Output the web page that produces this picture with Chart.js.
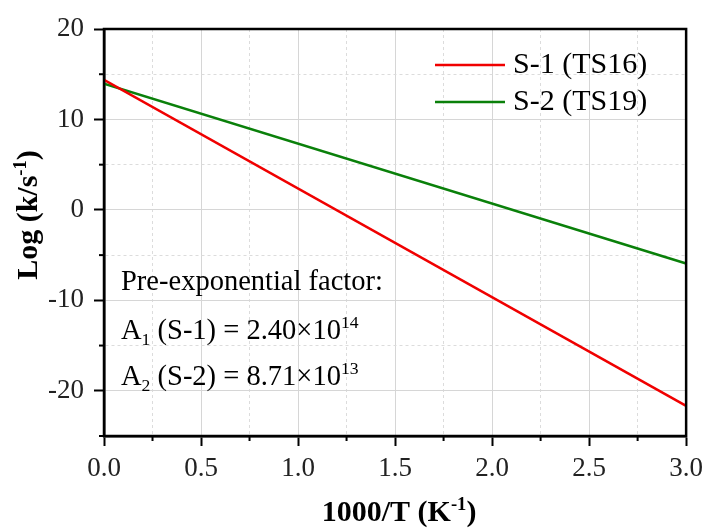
<!DOCTYPE html>
<html>
<head>
<meta charset="utf-8">
<script src="https://cdn.jsdelivr.net/npm/chart.js@4.4.1/dist/chart.umd.min.js"></script>
<style>
  html, body { margin: 0; padding: 0; background: #fff; }
  #wrap { width: 710px; height: 528px; }
</style>
</head>
<body>
<div id="wrap"><canvas id="c"></canvas></div>
<script>
// Arrhenius lines, log(k) against 1000/T
const invT = [0, 3.0];
const logK1 = [14.38, -21.67];
const logK2 = [13.94, -5.92];
const seriesNames = ['S-1 (TS16)', 'S-2 (TS19)'];
const seriesColors = ['#f00000', '#0a800a'];

const xRange = [0, 3.0];
const yRange = [-25, 20];

const SERIF = "'Liberation Serif', 'Times New Roman', serif";

// text pieces: [text, 'sup' | 'sub' | undefined]
function runWidth(ctx, parts, size, bold) {
  let w = 0;
  parts.forEach(p => {
    const s = p[1] ? size * 0.62 : size;
    ctx.font = (bold ? 'bold ' : '') + s + 'px ' + SERIF;
    w += ctx.measureText(p[0]).width;
  });
  return w;
}
function drawRun(ctx, parts, x, y, size, bold) {
  ctx.textBaseline = 'alphabetic';
  ctx.textAlign = 'left';
  parts.forEach(p => {
    const s = p[1] ? size * 0.62 : size;
    ctx.font = (bold ? 'bold ' : '') + s + 'px ' + SERIF;
    let dy = 0;
    if (p[1] === 'sup') dy = -size * 0.38;
    if (p[1] === 'sub') dy = size * 0.2;
    ctx.fillText(p[0], x, y + dy);
    x += ctx.measureText(p[0]).width;
  });
}

const decorations = {
  id: 'decorations',
  afterDraw(chart) {
    const ctx = chart.ctx;
    const a = chart.chartArea;
    const xs = chart.scales.x, ys = chart.scales.y;
    ctx.save();

    // minor tick marks, shorter than the major ones
    ctx.strokeStyle = '#000';
    ctx.lineWidth = 2;
    xs.ticks.forEach(t => {
      if (!isMajorX(t.value)) {
        const px = xs.getPixelForValue(t.value);
        ctx.beginPath(); ctx.moveTo(px, a.bottom); ctx.lineTo(px, a.bottom + 5); ctx.stroke();
      }
    });
    ys.ticks.forEach(t => {
      if (!isMajorY(t.value)) {
        const py = ys.getPixelForValue(t.value);
        ctx.beginPath(); ctx.moveTo(a.left, py); ctx.lineTo(a.left - 5, py); ctx.stroke();
      }
    });

    // frame
    ctx.lineWidth = 2.5;
    ctx.strokeRect(a.left, a.top, a.right - a.left, a.bottom - a.top);

    ctx.fillStyle = '#000';
    // x title
    const xt = [['1000/T (K'], ['-1', 'sup'], [')']];
    const xw = runWidth(ctx, xt, 30, true);
    drawRun(ctx, xt, (a.left + a.right) / 2 - xw / 2 + 4, 521, 30, true);

    // y title
    const yt = [['Log (k/s'], ['-1', 'sup'], [')']];
    const yw = runWidth(ctx, yt, 30, true);
    ctx.save();
    ctx.translate(37, 215);
    ctx.rotate(-Math.PI / 2);
    drawRun(ctx, yt, -yw / 2, 0, 30, true);
    ctx.restore();

    // legend
    chart.data.datasets.forEach((ds, i) => {
      const ly = 65 + i * 37;
      ctx.strokeStyle = ds.borderColor;
      ctx.lineWidth = 2.5;
      ctx.beginPath(); ctx.moveTo(435, ly); ctx.lineTo(505, ly); ctx.stroke();
      ctx.fillStyle = '#000';
      ctx.font = '30px ' + SERIF;
      ctx.textBaseline = 'middle';
      ctx.textAlign = 'left';
      ctx.fillText(ds.label, 513, ly);
    });

    // pre-exponential factors
    ctx.fillStyle = '#000';
    drawRun(ctx, [['Pre-exponential factor:']], 121, 290, 28.5, false);
    drawRun(ctx, [['A'], ['1', 'sub'], [' (S-1) = 2.40\u00d710'], ['14', 'sup']], 121, 339, 28.5, false);
    drawRun(ctx, [['A'], ['2', 'sub'], [' (S-2) = 8.71\u00d710'], ['13', 'sup']], 121, 385, 28.5, false);

    ctx.restore();
  }
};

const isMajorX = v => Math.abs(v * 2 - Math.round(v * 2)) < 1e-6;
const isMajorY = v => v % 10 === 0;

new Chart(document.getElementById('c'), {
  type: 'line',
  data: {
    datasets: [
      {
        label: seriesNames[0],
        data: invT.map((x, i) => ({ x, y: logK1[i] })),
        borderColor: seriesColors[0],
        borderWidth: 2.5,
        pointRadius: 0
      },
      {
        label: seriesNames[1],
        data: invT.map((x, i) => ({ x, y: logK2[i] })),
        borderColor: seriesColors[1],
        borderWidth: 2.5,
        pointRadius: 0
      }
    ]
  },
  options: {
    responsive: true,
    maintainAspectRatio: false,
    animation: false,
    layout: { padding: { left: 0, top: 29, right: 23, bottom: 0 } },
    plugins: { legend: { display: false }, tooltip: { enabled: false } },
    scales: {
      x: {
        type: 'linear',
        min: xRange[0],
        max: xRange[1],
        afterFit: s => { s.height = 92; },
        ticks: {
          stepSize: 0.25,
          autoSkip: false,
          maxRotation: 0,
          color: '#222',
          padding: 7,
          font: { family: SERIF, size: 27 },
          callback: v => isMajorX(v) ? v.toFixed(1) : ''
        },
        grid: {
          color: ctx => isMajorX(ctx.tick.value) ? '#d6d6d6' : '#dcdcdc',
          lineWidth: 1,
          tickLength: 10,
          tickWidth: 2,
          tickColor: ctx => isMajorX(ctx.tick.value) ? '#000' : 'rgba(0,0,0,0)'
        },
        border: {
          color: '#000',
          width: 2.5,
          dash: ctx => isMajorX(ctx.tick.value) ? [] : [3, 3]
        }
      },
      y: {
        type: 'linear',
        min: yRange[0],
        max: yRange[1],
        afterFit: s => { s.width = 104; },
        ticks: {
          stepSize: 5,
          autoSkip: false,
          color: '#222',
          padding: 10,
          font: { family: SERIF, size: 27 },
          callback: v => isMajorY(v) ? String(v) : ''
        },
        grid: {
          color: ctx => isMajorY(ctx.tick.value) ? '#d6d6d6' : '#dcdcdc',
          lineWidth: 1,
          tickLength: 10,
          tickWidth: 2,
          tickColor: ctx => isMajorY(ctx.tick.value) ? '#000' : 'rgba(0,0,0,0)'
        },
        border: {
          color: '#000',
          width: 2.5,
          dash: ctx => isMajorY(ctx.tick.value) ? [] : [3, 3]
        }
      }
    }
  },
  plugins: [decorations]
});
</script>
</body>
</html>
